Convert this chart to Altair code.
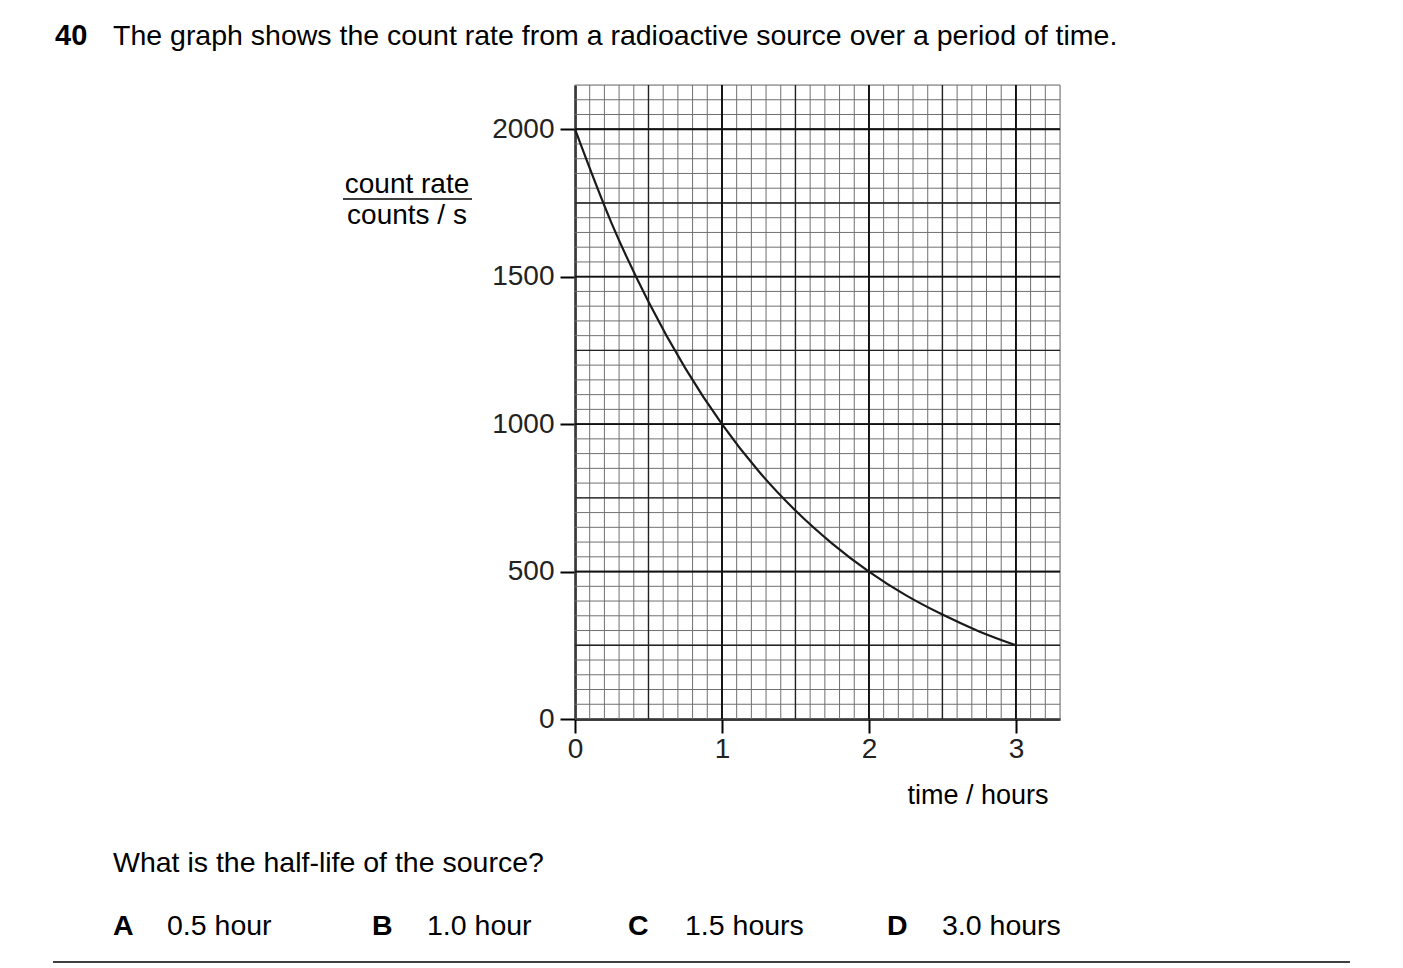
import numpy as np
import altair as alt
import pandas as pd

# curve (time in hours, count rate in counts/s)
times = [0, 0.25, 0.5, 0.75, 1.0, 1.25, 1.5, 1.75, 2.0, 2.25, 2.5, 2.75, 3.0]
counts = [2000, 1680, 1415, 1190, 1000, 840, 707, 595, 500, 420, 354, 297, 250]

x_ticks = [0, 1, 2, 3]
y_ticks = [0, 500, 1000, 1500, 2000]

question = "The graph shows the count rate from a radioactive source over a period of time."
ask = "What is the half-life of the source?"
letters = ["A", "B", "C", "D"]
answers = ["0.5 hour", "1.0 hour", "1.5 hours", "3.0 hours"]

FONT = "Liberation Sans"
X_MAX, Y_MAX = 3.3, 2150
W, H = 485, 634

xs = alt.Scale(domain=[0, X_MAX], nice=False, zero=False)
ys = alt.Scale(domain=[0, Y_MAX], nice=False)

# the same axis spec goes on every layer so that the merged axis keeps it
x_axis = alt.Axis(
    values=x_ticks, format="d", grid=False, domainColor="black", domainWidth=2.4,
    tickColor="black", tickWidth=2, tickSize=14, labelPadding=2, labelFlush=False,
    labelFont=FONT, labelFontSize=28, labelColor="#222222",
)
y_axis = alt.Axis(
    values=y_ticks, format="d", grid=False, domainColor="black", domainWidth=2.4,
    tickColor="black", tickWidth=2, tickSize=15, labelPadding=6,
    labelFont=FONT, labelFontSize=28, labelColor="#222222",
)

df = pd.DataFrame({"time": times, "count": counts})


def vgrid(values, color, width):
    return alt.Chart(pd.DataFrame({"v": values})).mark_rule(
        color=color, strokeWidth=width
    ).encode(x=alt.X("v:Q", scale=xs, axis=x_axis, title=None))


def hgrid(values, color, width):
    return alt.Chart(pd.DataFrame({"v": values})).mark_rule(
        color=color, strokeWidth=width
    ).encode(y=alt.Y("v:Q", scale=ys, axis=y_axis, title=None))


def label(txt, x, y, bold=False, align="left", size=28.5):
    return alt.Chart(pd.DataFrame({"t": [txt]})).mark_text(
        font=FONT, fontSize=size, fontWeight="bold" if bold else "normal",
        align=align, baseline="middle", color="black"
    ).encode(text="t:N", x=alt.value(x), y=alt.value(y))


minor_x = np.round(np.arange(0, X_MAX + 0.01, 0.1), 2)
minor_y = np.arange(0, Y_MAX + 1, 50)
mid_x = np.arange(0.5, X_MAX, 0.5)
mid_y = np.arange(250, Y_MAX, 250)

grid = (
    vgrid(minor_x, "#707070", 1) + hgrid(minor_y, "#707070", 1)
    + vgrid(mid_x, "#222222", 1.4) + hgrid(mid_y, "#222222", 1.4)
    + vgrid([1, 2, 3], "#111111", 1.8) + hgrid([500, 1000, 1500, 2000], "#111111", 1.8)
)

curve = alt.Chart(df).mark_line(
    color="#1a1a1a", strokeWidth=2.2, interpolate="monotone"
).encode(
    x=alt.X("time:Q", scale=xs, title=None, axis=x_axis),
    y=alt.Y("count:Q", scale=ys, title=None, axis=y_axis),
)

# y axis title drawn as a fraction
underline = alt.Chart(pd.DataFrame({"a": [0]})).mark_rule(color="black", strokeWidth=1.5).encode(
    x=alt.value(-232), x2=alt.value(-103), y=alt.value(114)
)
bottom_line = alt.Chart(pd.DataFrame({"a": [0]})).mark_rule(color="black", strokeWidth=1.5).encode(
    x=alt.value(-522), x2=alt.value(775), y=alt.value(877)
)

texts = (
    label("40", -520, -49, bold=True, size=29)
    + label(question, -462, -49)
    + label("count rate", -168, 100, align="center", size=28)
    + label("counts / s", -168, 131, align="center", size=28)
    + label("time / hours", 403, 711, align="center", size=27)
    + label(ask, -462, 778)
)
letter_x = [-462, -203, 53, 312]
answer_x = [-408, -148, 110, 367]
for lt, ans, lx, ax in zip(letters, answers, letter_x, answer_x):
    texts = texts + label(lt, lx, 841, bold=True) + label(ans, ax, 841)

chart = (grid + curve + underline + bottom_line + texts).properties(
    width=W, height=H,
    autosize=alt.AutoSizeParams(type="none"),
    padding={"left": 567, "top": 77, "right": 330, "bottom": 260},
).configure_view(stroke=None).configure(background="white")

chart.save("out.html", embed_options={"renderer": "svg", "actions": False})
